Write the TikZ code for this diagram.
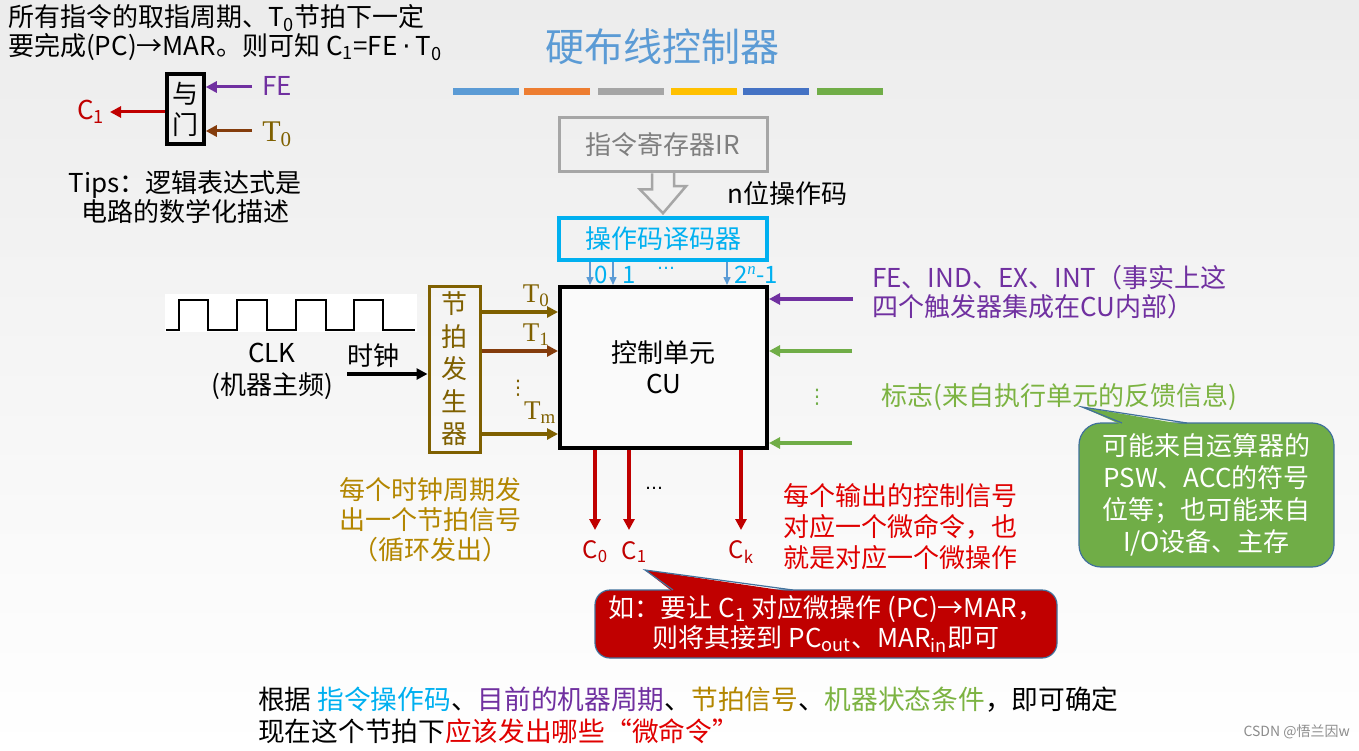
\documentclass[tikz,border=0pt]{standalone}
\usepackage{fontspec}
\setmainfont{Noto Sans CJK SC}
\newfontfamily\serif{Liberation Serif}
\newfontfamily\dejavu{DejaVu Sans}
\usetikzlibrary{arrows.meta}
\definecolor{purp}{HTML}{7030A0}
\definecolor{gold}{HTML}{7F6000}
\definecolor{brn}{HTML}{843C0C}
\definecolor{goldtxt}{HTML}{B38600}
\definecolor{cyan1}{HTML}{00B0F0}
\definecolor{decarrow}{HTML}{5B9BD5}
\definecolor{red1}{HTML}{C00000}
\definecolor{redtxt}{HTML}{E00000}
\definecolor{green1}{HTML}{70AD47}
\definecolor{greentxt}{HTML}{7CB342}
\definecolor{cborder}{HTML}{41719C}
\definecolor{titleblue}{HTML}{5B9BD5}
\definecolor{irgray}{HTML}{A6A6A6}
\definecolor{irtext}{HTML}{7F7F7F}
\definecolor{barA}{HTML}{5B9BD5}
\definecolor{barB}{HTML}{ED7D31}
\definecolor{barC}{HTML}{A5A5A5}
\definecolor{barD}{HTML}{FFC000}
\definecolor{barE}{HTML}{4472C4}
\definecolor{barF}{HTML}{70AD47}
\definecolor{bgtop}{HTML}{ECECEC}
\begin{document}
\begin{tikzpicture}[x=1pt,y=-1pt,
  txt/.style={inner sep=0pt, font=\fontsize{26}{31}\selectfont},
  arr/.style={line width=3.4pt,-{Triangle[length=11pt,width=11pt]}},
  thinarr/.style={line width=1.5pt,-{Triangle[length=8pt,width=7pt]}, color=decarrow},
  box/.style={draw, inner sep=0pt, align=center, font=\fontsize{26}{31}\selectfont},
  colbar/.style={minimum width=66pt, minimum height=7pt, inner sep=0pt, draw=none},
  tlab/.style={inner sep=0pt, text=gold, font=\serif\fontsize{27}{30}\selectfont},
  clab/.style={inner sep=0pt, text=red1, font=\fontsize{24}{28}\selectfont},
  dlab/.style={inner sep=0pt, text=cyan1, font=\fontsize{24}{28}\selectfont},
  callout/.style={draw=cborder, line width=1.2pt, inner sep=0pt, text=white, align=center}
]
\useasboundingbox (0,0) rectangle (1359,751);
\shade[top color=bgtop, bottom color=white] (0,0) rectangle (1359,751);

% top-left explanation
\node[txt, anchor=west] (intro1) at (8,18) {所有指令的取指周期、T\textsubscript{0}节拍下一定};
\node[txt, anchor=west] (intro2) at (8,47) {要完成(PC)→MAR。则可知 C\textsubscript{1}=FE\hspace{5pt}{\dejavu ·}\hspace{5pt}T\textsubscript{0}};

% and gate
\node[box, line width=3.5pt, minimum width=37pt, minimum height=70pt] (gate) at (185.5,109) {与\\门};
\coordinate (fein) at (252,87);
\coordinate (t0in) at (252,131);
\coordinate (c1out) at (110,112);
\draw[arr, line width=3pt, color=purp] (fein) -- (fein -| gate.east);
\draw[arr, line width=3pt, color=brn] (t0in) -- (t0in -| gate.east);
\draw[arr, line width=3pt, color=red1] (c1out -| gate.west) -- (c1out);
\node[txt, text=purp] (fel) at (277,86) {FE};
\node[inner sep=0pt, text=gold, font=\serif\fontsize{30}{32}\selectfont] (t0l) at (277,134) {T\textsubscript{0}};
\node[txt, text=red1] (c1l) at (91,112) {C\textsubscript{1}};
\node[txt, align=center, font=\fontsize{26}{29}\selectfont] (tips) at (185,197) {Tips：逻辑表达式是\\电路的数学化描述};

% title and bars
\node[inner sep=0pt, text=titleblue, font=\fontsize{39}{44}\selectfont] (title) at (662,47) {硬布线控制器};
\node[colbar, fill=barA] (b1) at (486,92) {};
\node[colbar, fill=barB] (b2) at (557,92) {};
\node[colbar, fill=barC] (b3) at (631,92) {};
\node[colbar, fill=barD] (b4) at (704,92) {};
\node[colbar, fill=barE] (b5) at (776,92) {};
\node[colbar, fill=barF] (b6) at (850,92) {};

% IR and decoder
\node[box, draw=irgray, text=irtext, line width=3pt, minimum width=208pt, minimum height=54pt] (ir) at (663,145) {指令寄存器IR};
\node[box, draw=cyan1, text=cyan1, line width=3.5pt, minimum width=208pt, minimum height=42pt] (dec) at (663,239) {操作码译码器};
\draw[irgray, line width=2.5pt, line join=miter]
  ([xshift=-11pt]ir.south) -- ++(0,16) -- ++(-12,0) -- ([yshift=3pt]dec.north)
  -- ++(23,-27) -- ++(-12,0) -- ++(0,-16);
\node[txt, anchor=west] (nbit) at (727,194) {n位操作码};

% control unit
\node[box, line width=4pt, fill=white!98!black, minimum width=207pt, minimum height=161pt] (cu) at (663.5,367.5) {控制单元\\CU};

% decoder outputs
\coordinate (dx0) at (590,0);
\coordinate (dx1) at (613,0);
\coordinate (dxn) at (727,0);
\draw[thinarr] (dec.south -| dx0) -- (cu.north -| dx0);
\draw[thinarr] (dec.south -| dx1) -- (cu.north -| dx1);
\draw[thinarr] (dec.south -| dxn) -- (cu.north -| dxn);
\node[dlab] (l0) at (601,275) {0};
\node[dlab] (l1) at (629,275) {1};
\node[inner sep=0pt, text=cyan1, font=\dejavu\fontsize{18}{20}\selectfont] (ldots) at (666,268) {…};
\node[dlab] (ln) at (756,275) {2\textsuperscript{\serif\itshape n}-1};

% clock
\fill[white] (165,294) rectangle (417,332);
\draw[line width=2pt] (166,330) -- (179,330) -- (179,300) -- (208,300) -- (208,330) -- (237,330) -- (237,300) -- (267,300) -- (267,330) -- (296,330) -- (296,300) -- (326,300) -- (326,330) -- (354,330) -- (354,300) -- (383,300) -- (383,330) -- (415,330);
\node[txt, align=center, font=\fontsize{26}{32}\selectfont] (clk) at (272,371) {CLK\\(机器主频)};
\node[txt] (shizhong) at (373,356) {时钟};

% beat generator
\node[box, draw=gold, text=gold, line width=3pt, minimum width=51pt, minimum height=166pt, font=\fontsize{26}{32.5}\selectfont] (jp) at (454.5,369) {节\\拍\\发\\生\\器};
\coordinate (clkin) at (347,374);
\draw[arr] (clkin) -- (clkin -| jp.west);
\coordinate (ty0) at (0,312);
\coordinate (ty1) at (0,351);
\coordinate (tym) at (0,434);
\draw[arr, color=gold] (jp.east |- ty0) -- (cu.west |- ty0);
\draw[arr, color=brn] (jp.east |- ty1) -- (cu.west |- ty1);
\draw[arr, color=gold] (jp.east |- tym) -- (cu.west |- tym);
\node[tlab] (lt0) at (536,296) {T\textsubscript{0}};
\node[tlab] (lt1) at (536,335) {T\textsubscript{1}};
\node[inner sep=0pt, text=gold, font=\dejavu\fontsize{20}{22}\selectfont] (ltd) at (518,388) {⋮};
\node[tlab] (ltm) at (540,413) {T\textsubscript{m}};
\node[txt, text=goldtxt, align=center, font=\fontsize{26}{30}\selectfont] (jpnote) at (430,520) {每个时钟周期发\\出一个节拍信号\\（循环发出）};

% outputs of CU
\coordinate (c0) at (595,530);
\coordinate (c1) at (629,530);
\coordinate (ck) at (741,530);
\draw[arr, color=red1] (c0 |- cu.south) -- (c0);
\draw[arr, color=red1] (c1 |- cu.south) -- (c1);
\draw[arr, color=red1] (ck |- cu.south) -- (ck);
\node[inner sep=0pt, font=\dejavu\fontsize{18}{20}\selectfont] (cdots) at (654,488) {…};
\node[clab] (lc0) at (595,552) {C\textsubscript{0}};
\node[clab] (lc1) at (634,552) {C\textsubscript{1}};
\node[clab] (lck) at (741,552) {C\textsubscript{k}};
\node[txt, text=redtxt, anchor=west, align=left] (redtext) at (783,527) {每个输出的控制信号\\对应一个微命令，也\\就是对应一个微操作};

% right-side inputs
\coordinate (pin) at (853,299);
\coordinate (gin1) at (852,351);
\coordinate (gin2) at (852,443);
\draw[arr, color=purp] (pin) -- (pin -| cu.east);
\draw[arr, color=green1] (gin1) -- (gin1 -| cu.east);
\draw[arr, color=green1] (gin2) -- (gin2 -| cu.east);
\node[inner sep=0pt, text=green1, font=\dejavu\fontsize{20}{22}\selectfont] (gdots) at (817,397) {⋮};
\node[txt, text=purp, anchor=west, align=left, font=\fontsize{26}{29}\selectfont] (flags) at (872,292.5) {FE、IND、EX、INT（事实上这\\四个触发器集成在CU内部）};
\node[txt, text=greentxt, anchor=west] (flagtxt) at (881,397) {标志(来自执行单元的反馈信息)};

% green callout
\node[callout, fill=green1, rounded corners=22pt, minimum width=255pt, minimum height=144pt, font=\fontsize{26}{32}\selectfont] (gnote) at (1206.5,495) {可能来自运算器的\\PSW、ACC的符号\\位等；也可能来自\\I/O设备、主存};
\coordinate (gtip) at (1082,407);
\fill[green1] (gtip) -- (1122,425) -- (1187,425) -- cycle;
\draw[cborder, line width=1.2pt] (1122,423) -- (gtip) -- (1187,423);

% red callout
\node[callout, fill=red1, rounded corners=15pt, minimum width=462pt, minimum height=68pt, font=\fontsize{26}{30}\selectfont] (rnote) at (826,624) {如：要让 C\textsubscript{1} 对应微操作 (PC)→MAR，\\则将其接到 PC\textsubscript{out}、MAR\textsubscript{in}即可};
\coordinate (rtip) at (645,570);
\fill[red1] (rtip) -- (673,592) -- (793,592) -- cycle;
\draw[cborder, line width=1.2pt] (673,590) -- (rtip) -- (793,590);

% bottom summary
\node[txt, anchor=west, font=\fontsize{26.7}{31}\selectfont] (sum1) at (258,700) {根据 \textcolor{cyan1}{指令操作码}、\textcolor{purp}{目前的机器周期}、\textcolor{goldtxt}{节拍信号}、\textcolor{greentxt}{机器状态条件}，即可确定};
\node[txt, anchor=west, font=\fontsize{26.7}{31}\selectfont] (sum2) at (258,731) {现在这个节拍下\textcolor{redtxt}{应该发出哪些“微命令”}};

\node[inner sep=0pt, anchor=east, text=black!45, font=\fontsize{14}{16}\selectfont] (csdn) at (1350,732) {CSDN @悟兰因w};
\end{tikzpicture}
\end{document}
